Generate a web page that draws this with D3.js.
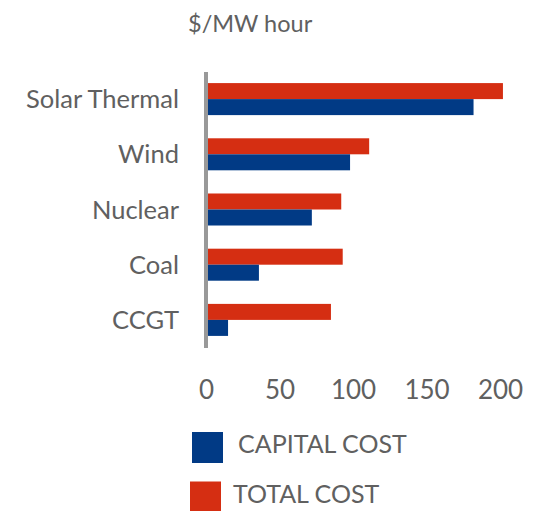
<!DOCTYPE html>
<html>
<head>
	<meta charset="utf-8">
	<title>Cost per MW hour</title>
	<style>
		body { margin: 0; background: #fff; }
		svg { display: block; }
		text {
			font-family: Lato, "Open Sans", sans-serif;
			fill: #606060;
		}
	</style>
</head>
<body>
	<div id="chart"></div>
<script src="https://d3js.org/d3.v7.min.js"></script>
<script>
	// Data
	var categories = ["Solar Thermal", "Wind", "Nuclear", "Coal", "CCGT"];
	var capitalCost = [182, 98, 72, 36, 15];
	var totalCost = [202, 111, 92, 93, 85];
	var tickValues = [0, 50, 100, 150, 200];
	var seriesNames = ["TOTAL COST", "CAPITAL COST"];

	var colors = {"CAPITAL COST": "#013a85", "TOTAL COST": "#d52e12"};

	var width = 533, height = 511;

	var svg = d3.select("#chart")
		.append("svg")
			.attr("width", width)
			.attr("height", height);

	// Build rows for the grouped bars
	var rows = categories.map(function(c, i) {
		return {name: c, values: {"CAPITAL COST": capitalCost[i], "TOTAL COST": totalCost[i]}};
	});

	// Scales
	var x = d3.scaleLinear()
		.domain([0, 200])
		.range([206, 500]);

	var y = d3.scaleBand()
		.domain(categories)
		.range([71.5, 347.5])
		.paddingInner(0.42)
		.paddingOuter(0.21);

	var ySub = d3.scaleBand()
		.domain(seriesNames)
		.range([0, y.bandwidth()]);

	// Title
	svg.append("text")
		.attr("x", 188)
		.attr("y", 32)
		.style("font-size", "23.5px")
		.text("$/MW hour");

	// Bars
	var groups = svg.selectAll(".group")
		.data(rows)
		.enter()
		.append("g")
			.attr("class", "group")
			.attr("transform", function(d) { return "translate(0," + y(d.name) + ")"; });

	groups.selectAll("rect")
		.data(function(d) { return seriesNames.map(function(s) { return {key: s, value: d.values[s]}; }); })
		.enter()
		.append("rect")
			.attr("x", x(0))
			.attr("y", function(d) { return ySub(d.key); })
			.attr("width", function(d) { return x(d.value) - x(0); })
			.attr("height", ySub.bandwidth())
			.attr("fill", function(d) { return colors[d.key]; });

	// Y axis: labels only plus a thick grey line
	var yAxis = svg.append("g")
		.attr("transform", "translate(179,0)")
		.call(d3.axisLeft(y).tickSize(0).tickPadding(0));
	yAxis.select(".domain").remove();
	yAxis.selectAll("text")
		.attr("fill", "#606060")
		.style("font-family", "Lato, 'Open Sans', sans-serif")
		.style("font-size", "25.5px")
		.attr("dy", "0.36em");

	svg.append("line")
		.attr("x1", x(0)).attr("x2", x(0))
		.attr("y1", 72).attr("y2", 348)
		.attr("stroke", "#999")
		.attr("stroke-width", 4);

	// X axis: tick labels only
	var xAxis = svg.append("g")
		.attr("transform", "translate(0,380)")
		.call(d3.axisBottom(x).tickValues(tickValues).tickSize(0).tickPadding(0));
	xAxis.select(".domain").remove();
	xAxis.selectAll("text")
		.attr("fill", "#606060")
		.style("font-family", "Lato, 'Open Sans', sans-serif")
		.style("font-size", "26px")
		.attr("dy", "0.72em");

	// Legend
	var legendPos = [
		{key: "CAPITAL COST", bx: 192, by: 432, tx: 238, ty: 453},
		{key: "TOTAL COST", bx: 190, by: 481.5, tx: 233, ty: 503}
	];
	var legend = svg.selectAll(".legend")
		.data(legendPos)
		.enter()
		.append("g")
			.attr("class", "legend");
	legend.append("rect")
		.attr("x", function(d) { return d.bx; })
		.attr("y", function(d) { return d.by; })
		.attr("width", 31)
		.attr("height", 31)
		.attr("fill", function(d) { return colors[d.key]; });
	legend.append("text")
		.attr("x", function(d) { return d.tx; })
		.attr("y", function(d) { return d.ty; })
		.style("font-size", "25px")
		.text(function(d) { return d.key; });
</script>
</body>
</html>
